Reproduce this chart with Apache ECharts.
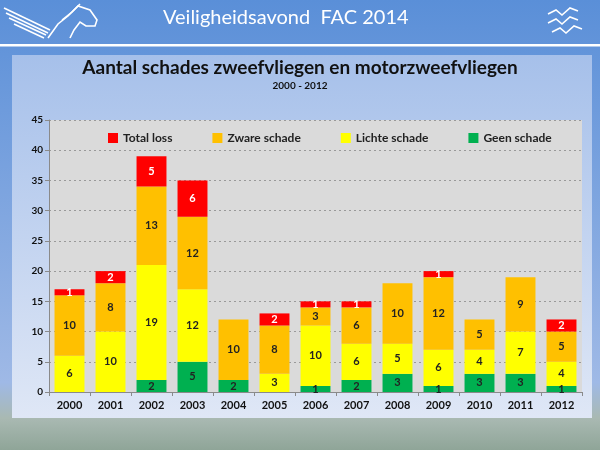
<!DOCTYPE html>
<html>
<head>
<meta charset="utf-8">
<script src="https://cdn.jsdelivr.net/npm/echarts@6/dist/echarts.min.js"></script>
<style>
html,body{margin:0;padding:0;}
#main{width:600px;height:450px;}
</style>
</head>
<body>
<div id="main"></div>
<script>
// jaren en schades per soort
var years = ['2000','2001','2002','2003','2004','2005','2006','2007','2008','2009','2010','2011','2012'];
var geenSchade   = [0, 0, 2, 5, 2, 0, 1, 2, 3, 1, 3, 3, 1];
var lichteSchade = [6, 10, 19, 12, 0, 3, 10, 6, 5, 6, 4, 7, 4];
var zwareSchade  = [10, 8, 13, 12, 10, 8, 3, 6, 10, 12, 5, 9, 5];
var totalLoss    = [1, 2, 5, 6, 0, 2, 1, 1, 0, 1, 0, 0, 2];

var fontFam = 'Lato, "Open Sans", sans-serif';
var myChart = echarts.init(document.getElementById('main'));

function serie(name, data, color, labelColor){
    return {
        name: name,
        type: 'bar',
        stack: 'schade',
        data: data,
        barCategoryGap: '27%',
        animation: false,
        itemStyle: {color: color},
        label: {
            show: true,
            position: 'inside',
            color: labelColor,
            fontFamily: fontFam,
            fontWeight: 'bold',
            fontSize: 11,
            formatter: function (p) { return p.value ? p.value : ''; }
        }
    };
}

// witte lijnen voor de logo's
var white = {stroke: '#fff', lineWidth: 1.6, fill: null};
function gull(x, y){
    return {type: 'polyline', shape: {points: [[x, y+6], [x+8, y+2], [x+14, y+7], [x+22, y], [x+30, y+3]]}, style: white, silent: true};
}

myChart.setOption({
    animation: false,
    graphic: [
        {type: 'rect', z: -10, shape: {x: 0, y: 0, width: 600, height: 450},
            style: {fill: new echarts.graphic.LinearGradient(0, 0, 0, 1, [
                {offset: 0, color: '#5a8fd8'},
                {offset: 0.85, color: '#9fb9e6'},
                {offset: 0.93, color: '#a9b9b2'},
                {offset: 1, color: '#8fa598'}])}, silent: true},
        {type: 'rect', z: -9, shape: {x: 0, y: 44, width: 600, height: 2.5}, style: {fill: '#fff'}, silent: true},
        {type: 'rect', z: -9, shape: {x: 12, y: 55, width: 580, height: 363},
            style: {fill: new echarts.graphic.LinearGradient(0, 0, 0, 1, [
                {offset: 0, color: '#a6c0ea'},
                {offset: 1, color: '#dfe7f6'}])}, silent: true},
        {type: 'text', left: 163, top: 8, style: {text: 'Veiligheidsavond  FAC 2014', fill: '#fff', font: '20px ' + fontFam}, silent: true},
        {type: 'text', left: 'center', top: 58, style: {text: 'Aantal schades zweefvliegen en motorzweefvliegen', fill: '#111', font: 'bold 19px ' + fontFam}, silent: true},
        {type: 'text', left: 'center', top: 81, style: {text: '2000 - 2012', fill: '#111', font: 'bold 10px ' + fontFam}, silent: true},
        // pegasus, heel ruw
        {type: 'polyline', shape: {points: [[4, 8], [50, 30]]}, style: white, silent: true},
        {type: 'polyline', shape: {points: [[6, 13], [48, 33]]}, style: white, silent: true},
        {type: 'polyline', shape: {points: [[9, 18], [46, 35]]}, style: white, silent: true},
        {type: 'polyline', shape: {points: [[14, 24], [44, 38]]}, style: white, silent: true},
        {type: 'polyline', shape: {points: [[48, 38], [58, 24], [68, 16], [78, 6], [90, 10], [97, 20], [95, 26], [86, 26], [80, 22], [74, 30], [70, 38]]}, style: white, silent: true},
        {type: 'polyline', shape: {points: [[62, 20], [72, 12], [80, 4]]}, style: white, silent: true},
        gull(548, 8), gull(548, 17), gull(552, 26)
    ],
    legend: {
        data: ['Total loss', 'Zware schade', 'Lichte schade', 'Geen schade'],
        left: 103,
        top: 127,
        itemWidth: 10,
        itemHeight: 10,
        itemGap: 40,
        icon: 'rect',
        textStyle: {fontFamily: fontFam, fontWeight: 'bold', fontSize: 12, color: '#222'}
    },
    grid: {
        left: 49,
        right: 18,
        top: 120,
        bottom: 58,
        show: true,
        backgroundColor: '#dadada',
        borderWidth: 0
    },
    xAxis: {
        type: 'category',
        data: years,
        axisLine: {lineStyle: {color: '#8a8a8a'}},
        axisTick: {show: true, length: 4, lineStyle: {color: '#8a8a8a'}},
        axisLabel: {color: '#111', fontFamily: fontFam, fontWeight: 'bold', fontSize: 11, margin: 8}
    },
    yAxis: {
        type: 'value',
        min: 0,
        max: 45,
        interval: 5,
        axisLine: {show: true, lineStyle: {color: '#8a8a8a'}},
        axisTick: {show: true, length: 4, lineStyle: {color: '#8a8a8a'}},
        axisLabel: {color: '#111', fontFamily: fontFam, fontWeight: 'bold', fontSize: 10, margin: 6},
        splitLine: {show: true, lineStyle: {color: '#999999', type: [2, 3], width: 1}}
    },
    series: [
        serie('Geen schade', geenSchade, '#00b050', '#222'),
        serie('Lichte schade', lichteSchade, '#ffff00', '#222'),
        serie('Zware schade', zwareSchade, '#ffc000', '#222'),
        serie('Total loss', totalLoss, '#ff0000', '#fff')
    ]
});
</script>
</body>
</html>
